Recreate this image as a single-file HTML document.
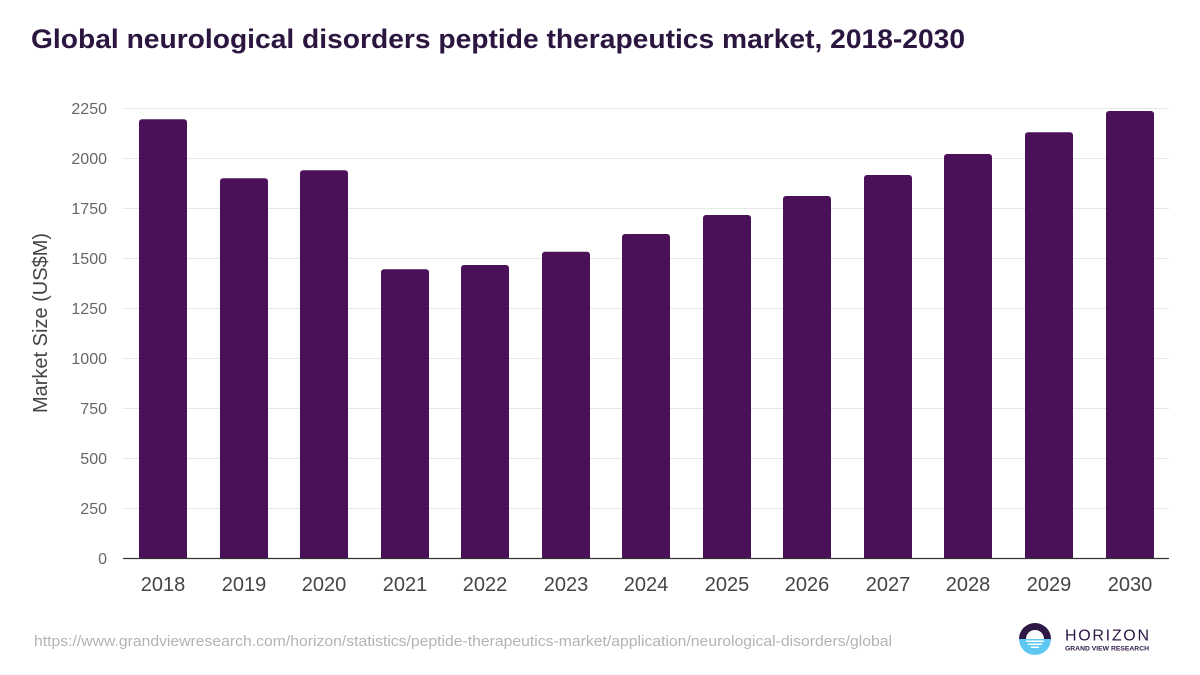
<!DOCTYPE html>
<html><head><meta charset="utf-8"><style>
html,body{margin:0;padding:0;background:#fff;}
svg{display:block;font-family:"Liberation Sans",Arial,sans-serif;}
</style></head><body>
<svg width="1200" height="675" viewBox="0 0 1200 675" xmlns="http://www.w3.org/2000/svg">
<rect width="1200" height="675" fill="#fff"/>
<text x="31" y="48" font-size="27" font-weight="bold" fill="#2b1640" textLength="934" lengthAdjust="spacingAndGlyphs">Global neurological disorders peptide therapeutics market, 2018-2030</text>
<g stroke="#e6e6e6" stroke-width="1">
<line x1="123" x2="1169" y1="108.5" y2="108.5"/>
<line x1="123" x2="1169" y1="158.5" y2="158.5"/>
<line x1="123" x2="1169" y1="208.5" y2="208.5"/>
<line x1="123" x2="1169" y1="258.5" y2="258.5"/>
<line x1="123" x2="1169" y1="308.5" y2="308.5"/>
<line x1="123" x2="1169" y1="358.5" y2="358.5"/>
<line x1="123" x2="1169" y1="408.5" y2="408.5"/>
<line x1="123" x2="1169" y1="458.5" y2="458.5"/>
<line x1="123" x2="1169" y1="508.5" y2="508.5"/>
</g>
<g font-size="16" fill="#666" text-anchor="end">
<text x="107" y="114">2250</text>
<text x="107" y="164">2000</text>
<text x="107" y="214">1750</text>
<text x="107" y="264">1500</text>
<text x="107" y="314">1250</text>
<text x="107" y="364">1000</text>
<text x="107" y="414">750</text>
<text x="107" y="464">500</text>
<text x="107" y="514">250</text>
<text x="107" y="564">0</text>
</g>
<text transform="translate(47,323) rotate(-90)" font-size="20" fill="#444" text-anchor="middle">Market Size (US$M)</text>
<g fill="#4a1158">
<path d="M139 558.5V122.3a3 3 0 0 1 3-3h42a3 3 0 0 1 3 3V558.5z"/>
<path d="M220 558.5V181.3a3 3 0 0 1 3-3h42a3 3 0 0 1 3 3V558.5z"/>
<path d="M300 558.5V173.3a3 3 0 0 1 3-3h42a3 3 0 0 1 3 3V558.5z"/>
<path d="M381 558.5V272.3a3 3 0 0 1 3-3h42a3 3 0 0 1 3 3V558.5z"/>
<path d="M461 558.5V268a3 3 0 0 1 3-3h42a3 3 0 0 1 3 3V558.5z"/>
<path d="M542 558.5V254.7a3 3 0 0 1 3-3h42a3 3 0 0 1 3 3V558.5z"/>
<path d="M622 558.5V237a3 3 0 0 1 3-3h42a3 3 0 0 1 3 3V558.5z"/>
<path d="M703 558.5V218a3 3 0 0 1 3-3h42a3 3 0 0 1 3 3V558.5z"/>
<path d="M783 558.5V199a3 3 0 0 1 3-3h42a3 3 0 0 1 3 3V558.5z"/>
<path d="M864 558.5V178a3 3 0 0 1 3-3h42a3 3 0 0 1 3 3V558.5z"/>
<path d="M944 558.5V157a3 3 0 0 1 3-3h42a3 3 0 0 1 3 3V558.5z"/>
<path d="M1025 558.5V135.3a3 3 0 0 1 3-3h42a3 3 0 0 1 3 3V558.5z"/>
<path d="M1106 558.5V114a3 3 0 0 1 3-3h42a3 3 0 0 1 3 3V558.5z"/>
</g>
<line x1="123" x2="1169" y1="558.5" y2="558.5" stroke="#333" stroke-width="1.3"/>
<g font-size="20" fill="#444" text-anchor="middle">
<text x="163" y="591">2018</text>
<text x="244" y="591">2019</text>
<text x="324" y="591">2020</text>
<text x="405" y="591">2021</text>
<text x="485" y="591">2022</text>
<text x="566" y="591">2023</text>
<text x="646" y="591">2024</text>
<text x="727" y="591">2025</text>
<text x="807" y="591">2026</text>
<text x="888" y="591">2027</text>
<text x="968" y="591">2028</text>
<text x="1049" y="591">2029</text>
<text x="1130" y="591">2030</text>
</g>
<text x="34" y="646" font-size="15" fill="#b3b3b3" textLength="858" lengthAdjust="spacingAndGlyphs">https://www.grandviewresearch.com/horizon/statistics/peptide-therapeutics-market/application/neurological-disorders/global</text>
<g>
<path d="M1019 639a16 16 0 0 1 32 0z" fill="#2d1846"/>
<path d="M1019 639a16 16 0 0 0 32 0z" fill="#5ec8f2"/>
<path d="M1026 639a9 9 0 0 1 18 0z" fill="#fff"/>
<rect x="1026" y="640.5" width="18" height="1.5" fill="#fff"/>
<rect x="1028" y="643.5" width="14" height="1.5" fill="#fff"/>
<rect x="1031" y="646.5" width="8" height="1.5" fill="#fff"/>
</g>
<text x="1065" y="640.5" font-size="16" fill="#2d1846" textLength="84" lengthAdjust="spacing">HORIZON</text>
<text x="1065" y="650.5" font-size="6.5" font-weight="bold" fill="#2d1846" textLength="84" lengthAdjust="spacingAndGlyphs">GRAND VIEW RESEARCH</text>
</svg>
</body></html>
